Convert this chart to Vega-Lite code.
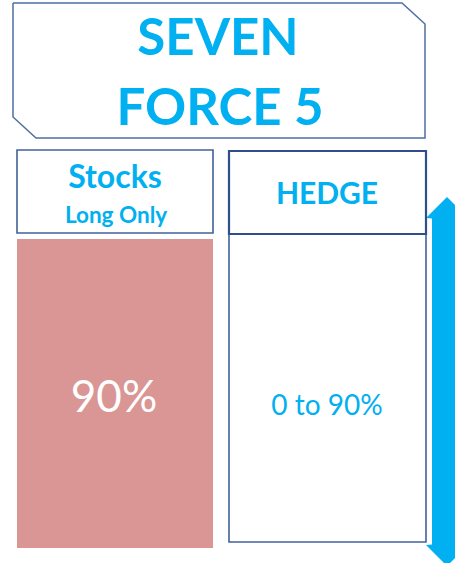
{
  "$schema": "https://vega.github.io/schema/vega-lite/v6.json",
  "width": 455,
  "height": 563,
  "padding": 0,
  "autosize": {"type": "none"},
  "background": "white",
  "config": {"view": {"stroke": null}},
  "datasets": {
    "frame": [
      {"px": 13, "py": 3, "k": 1},
      {"px": 402, "py": 3, "k": 2},
      {"px": 425, "py": 24, "k": 3},
      {"px": 425, "py": 138, "k": 4},
      {"px": 36, "py": 138, "k": 5},
      {"px": 13, "py": 117, "k": 6},
      {"px": 13, "py": 3, "k": 7}
    ],
    "bar": [{"name": "Stocks", "x1": 17, "x2": 213, "y1": 239, "y2": 548}],
    "thinBoxes": [
      {"name": "Stocks header", "x1": 17, "x2": 213, "y1": 150, "y2": 233},
      {"name": "Hedge body", "x1": 229, "x2": 426, "y1": 234, "y2": 542}
    ],
    "thickBoxes": [
      {"name": "Hedge header", "x1": 229, "x2": 426, "y1": 151, "y2": 234}
    ],
    "arrow": [
      {"ay": 197, "xl": 447, "xr": 447},
      {"ay": 218, "xl": 426, "xr": 468},
      {"ay": 218.5, "xl": 432, "xr": 462},
      {"ay": 544.5, "xl": 432, "xr": 462},
      {"ay": 545, "xl": 426, "xr": 468},
      {"ay": 566, "xl": 447, "xr": 447}
    ],
    "title": [
      {"label": "SEVEN", "tx": 218, "ty": 55},
      {"label": "FORCE 5", "tx": 220, "ty": 125}
    ],
    "heads": [
      {"label": "Stocks", "tx": 115, "ty": 188, "fs": 32},
      {"label": "Long Only", "tx": 116, "ty": 223, "fs": 22.5},
      {"label": "HEDGE", "tx": 327, "ty": 204, "fs": 30}
    ],
    "stockVal": [{"label": "90%", "tx": 114, "ty": 412}],
    "hedgeVal": [{"label": "0 to 90%", "tx": 327, "ty": 415}]
  },
  "encoding": {
    "x": {"type": "quantitative", "scale": {"domain": [0, 455], "nice": false, "zero": false}, "axis": null},
    "y": {"type": "quantitative", "scale": {"domain": [0, 563], "nice": false, "zero": false, "reverse": true}, "axis": null}
  },
  "layer": [
    {
      "data": {"name": "bar"},
      "mark": {"type": "rect", "color": "#d99694"},
      "encoding": {
        "x": {"field": "x1", "type": "quantitative"},
        "x2": {"field": "x2"},
        "y": {"field": "y1", "type": "quantitative"},
        "y2": {"field": "y2"}
      }
    },
    {
      "data": {"name": "arrow"},
      "mark": {"type": "area", "orient": "horizontal", "color": "#00b0f0", "clip": true},
      "encoding": {
        "y": {"field": "ay", "type": "quantitative"},
        "x": {"field": "xl", "type": "quantitative"},
        "x2": {"field": "xr"}
      }
    },
    {
      "data": {"name": "frame"},
      "mark": {"type": "line", "stroke": "#4f6fa0", "strokeWidth": 1.5},
      "encoding": {
        "x": {"field": "px", "type": "quantitative"},
        "y": {"field": "py", "type": "quantitative"},
        "order": {"field": "k"}
      }
    },
    {
      "data": {"name": "thinBoxes"},
      "mark": {"type": "rect", "filled": false, "stroke": "#41619a", "strokeWidth": 1.6},
      "encoding": {
        "x": {"field": "x1", "type": "quantitative"},
        "x2": {"field": "x2"},
        "y": {"field": "y1", "type": "quantitative"},
        "y2": {"field": "y2"}
      }
    },
    {
      "data": {"name": "thickBoxes"},
      "mark": {"type": "rect", "filled": false, "stroke": "#2f4f8a", "strokeWidth": 2.2},
      "encoding": {
        "x": {"field": "x1", "type": "quantitative"},
        "x2": {"field": "x2"},
        "y": {"field": "y1", "type": "quantitative"},
        "y2": {"field": "y2"}
      }
    },
    {
      "data": {"name": "title"},
      "mark": {"type": "text", "font": "Lato", "fontWeight": "bold", "fontSize": 51, "color": "#00b0f0", "align": "center", "baseline": "alphabetic"},
      "encoding": {
        "x": {"field": "tx", "type": "quantitative"},
        "y": {"field": "ty", "type": "quantitative"},
        "text": {"field": "label"}
      }
    },
    {
      "data": {"name": "heads"},
      "mark": {"type": "text", "font": "Lato", "fontWeight": "bold", "color": "#00b0f0", "align": "center", "baseline": "alphabetic"},
      "encoding": {
        "x": {"field": "tx", "type": "quantitative"},
        "y": {"field": "ty", "type": "quantitative"},
        "text": {"field": "label"},
        "size": {"field": "fs", "type": "quantitative", "scale": null, "legend": null}
      }
    },
    {
      "data": {"name": "stockVal"},
      "mark": {"type": "text", "font": "Lato", "fontSize": 44, "color": "white", "align": "center", "baseline": "alphabetic"},
      "encoding": {
        "x": {"field": "tx", "type": "quantitative"},
        "y": {"field": "ty", "type": "quantitative"},
        "text": {"field": "label"}
      }
    },
    {
      "data": {"name": "hedgeVal"},
      "mark": {"type": "text", "font": "Lato", "fontSize": 28, "color": "#00b0f0", "align": "center", "baseline": "alphabetic"},
      "encoding": {
        "x": {"field": "tx", "type": "quantitative"},
        "y": {"field": "ty", "type": "quantitative"},
        "text": {"field": "label"}
      }
    }
  ]
}
